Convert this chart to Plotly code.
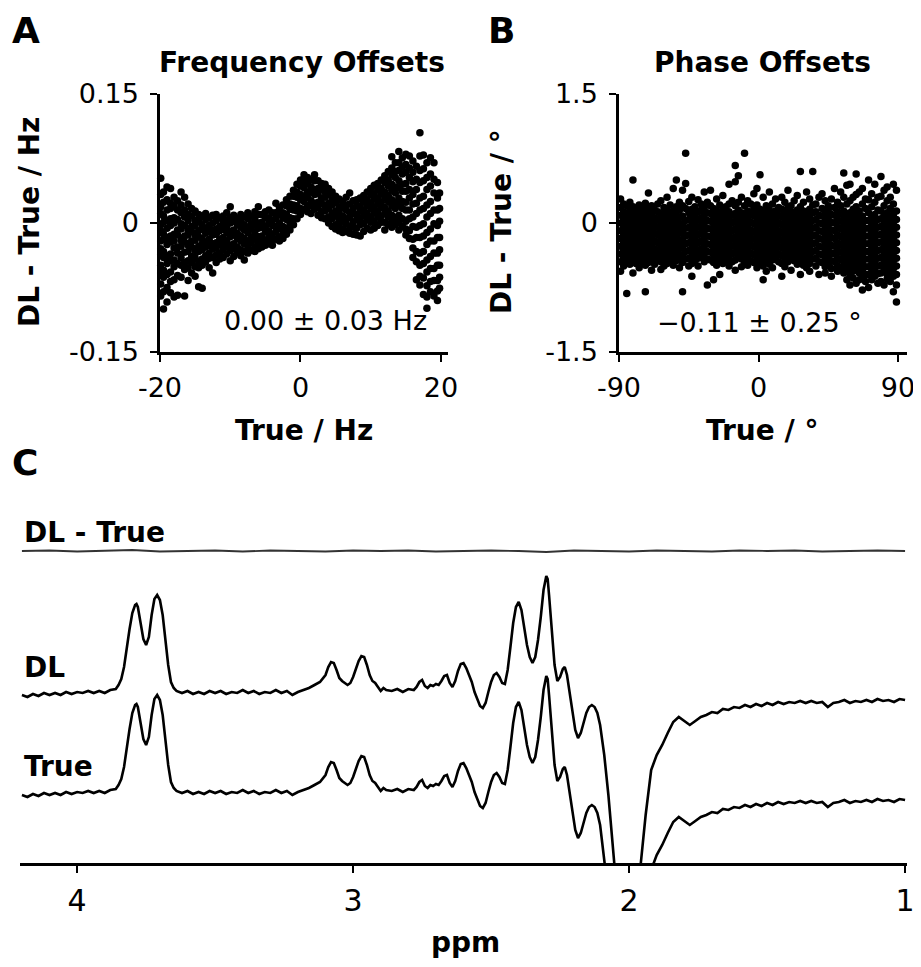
import plotly.graph_objects as go

# page window is 921x967; the html body adds an 8px margin, so the figure is 913x959
WIN_OFF = 8
W, H = 921 - WIN_OFF, 967 - WIN_OFF

# ---------------- Panel A: frequency offsets (x in Hz, y in mHz) ----------------
freq_col_x = [-19.9, -19.5, -19.0, -18.5, -18.0, -17.5, -17.0, -16.5, -16.0, -15.5,
              -15.0, -14.5, -14.0, -13.5, -13.0, -12.5, -12.0, -11.5, -11.0, -10.5,
              -10.0, -9.5, -9.0, -8.5, -8.0, -7.5, -7.0, -6.5, -6.0, -5.5,
              -5.0, -4.5, -4.0, -3.5, -3.0, -2.5, -2.0, -1.5, -1.0, -0.5,
              0.0, 0.5, 1.0, 1.5, 2.0, 2.5, 3.0, 3.5, 4.0, 4.5,
              5.0, 5.5, 6.0, 6.5, 7.0, 7.5, 8.0, 8.5, 9.0, 9.5,
              10.0, 10.5, 11.0, 11.5, 12.0, 12.5, 13.0, 13.5, 14.0, 14.5,
              15.0, 15.5, 16.0, 16.5, 17.0, 17.5, 18.0, 18.5, 19.0, 19.5, 19.8]
freq_diff_mhz = [
    [52, 33, 19, 11, -2, -9, -21, -30, -37, -49, -58, -71, -85],
    [36, 24, 8, 1, -13, -19, -33, -40, -55, -63, -80, -100],
    [42, 27, 15, 3, -6, -17, -25, -39, -47, -60, -75, -92],
    [40, 23, 17, 5, -3, -15, -22, -36, -44, -57, -68, -81],
    [30, 20, 6, 0, -13, -21, -29, -43, -51, -66, -86],
    [26, 15, 4, -8, -14, -28, -35, -47, -61, -84],
    [36, 21, 12, -1, -7, -20, -27, -40, -49, -63],
    [30, 15, 7, -3, -15, -22, -34, -46, -54, -85],
    [22, 10, 3, -9, -14, -26, -33, -44, -52, -67],
    [17, 8, -4, -10, -21, -28, -39, -46, -58],
    [14, 3, -3, -14, -20, -32, -40, -51, -62],
    [10, 2, -9, -16, -27, -33, -45, -52, -74],
    [8, -2, -7, -18, -24, -31, -42, -49, -76],
    [11, 4, -6, -12, -22, -28, -38, -45],
    [6, -3, -9, -19, -25, -35, -41, -52],
    [9, 0, -8, -14, -24, -30, -40, -58],
    [10, 3, -7, -13, -23, -29, -37, -46],
    [6, -4, -9, -19, -25, -35, -42],
    [8, 1, -7, -17, -23, -31, -40],
    [12, 3, -5, -11, -21, -27, -36],
    [19, 6, 0, -10, -16, -26, -32, -44],
    [9, 2, -8, -14, -24, -30, -39],
    [5, -2, -12, -18, -28, -34],
    [10, 1, -5, -15, -21, -31, -38],
    [7, -2, -8, -18, -24, -33, -43],
    [12, 5, -5, -11, -21, -27, -35],
    [8, -1, -7, -17, -23, -32],
    [13, 4, -2, -12, -18, -28, -33],
    [19, 10, 0, -6, -16, -22, -30],
    [10, 1, -5, -15, -21, -28],
    [13, 6, -4, -10, -20, -26],
    [15, 6, 0, -10, -16, -24],
    [12, 3, -3, -13, -19, -26],
    [23, 12, 6, -4, -10, -19],
    [18, 10, 0, -6, -16, -21],
    [21, 12, 6, -4, -10, -18],
    [27, 20, 10, 4, -6, -13],
    [31, 22, 16, 6, 0, -8],
    [38, 31, 21, 15, 5, -2],
    [45, 36, 30, 20, 14, 5],
    [50, 43, 33, 27, 17, 10],
    [56, 47, 41, 31, 25, 16],
    [53, 46, 36, 30, 20, 13],
    [50, 42, 36, 26, 20, 11],
    [56, 49, 39, 33, 23, 16],
    [49, 40, 34, 24, 18, 9],
    [46, 39, 29, 23, 13, 6],
    [45, 36, 30, 20, 14, 5],
    [40, 33, 23, 17, 7, 0],
    [36, 27, 21, 11, 5, -4],
    [31, 24, 14, 8, -2, -7],
    [28, 19, 13, 3, -3, -9],
    [25, 18, 8, 2, -7, -11],
    [30, 21, 15, 5, -1, -10],
    [35, 22, 12, 6, -4, -12],
    [26, 17, 11, 1, -5, -13],
    [27, 20, 10, 4, -6, -14],
    [29, 20, 14, 4, -2, -15],
    [32, 25, 15, 9, -1, -10],
    [36, 27, 21, 11, 5, -6],
    [40, 33, 23, 17, 7, 1, -8],
    [44, 34, 28, 18, 12, 2, -6],
    [46, 39, 29, 23, 13, 7, -3],
    [50, 40, 34, 24, 18, 8, 1],
    [55, 47, 36, 29, 18, 11, 1, -8],
    [60, 50, 43, 32, 25, 14, 7, -2],
    [77, 64, 56, 45, 38, 27, 20, 9, 2, -5],
    [70, 60, 53, 42, 35, 24, 17, 6, -2],
    [83, 70, 61, 49, 41, 29, 21, 9, 1, -8],
    [76, 65, 57, 45, 37, 25, 17, 5, -4],
    [80, 68, 59, 46, 37, 24, 15, 2, -7, -14],
    [78, 64, 53, 39, 29, 15, 5, -9, -18],
    [72, 59, 48, 33, 22, 7, -4, -19, -29, -40],
    [66, 51, 39, 23, 11, -5, -17, -33, -45, -66],
    [105, 78, 61, 47, 29, 15, -3, -17, -35, -49, -62, -72],
    [79, 63, 49, 31, 17, -1, -15, -33, -47, -64, -83],
    [70, 53, 39, 21, 7, -11, -25, -43, -57, -73, -86, -99],
    [76, 57, 43, 25, 11, -7, -21, -39, -53, -68, -80],
    [70, 51, 35, 15, -1, -21, -35, -53, -67, -85],
    [47, 29, 15, -3, -17, -35, -49, -67, -79, -90],
    [35, 17, 2, -17, -31, -49, -63, -76],
]

# ---------------- Panel B: phase offsets (x in deg, y in 0.01 deg) ----------------
phase_col_x = [-89, -87, -85, -83, -81, -79, -77, -75, -73, -71,
               -69, -67, -65, -63, -61, -59, -57, -55, -53, -51,
               -49, -47, -45, -43, -41, -39, -37, -35, -33, -31,
               -29, -27, -25, -23, -21, -19, -17, -15, -13, -11,
               -9, -7, -5, -3, -1, 1, 3, 5, 7, 9,
               11, 13, 15, 17, 19, 21, 23, 25, 27, 29,
               31, 33, 35, 37, 39, 41, 43, 45, 47, 49,
               51, 53, 55, 57, 59, 61, 63, 65, 67, 69,
               71, 73, 75, 77, 79, 81, 83, 85, 87, 89]
phase_diff_cdeg = [
    [28, 18, 9, 0, -9, -18, -27, -36, -45, -56],
    [22, 13, 4, -5, -14, -23, -32, -41, -50],
    [20, 10, 1, -8, -17, -26, -35, -44, -82],
    [24, 15, 6, -3, -12, -21, -30, -39, -48],
    [50, 19, 10, 1, -8, -17, -26, -35, -44, -58],
    [16, 7, -2, -11, -20, -29, -38, -47],
    [21, 12, 3, -6, -15, -24, -33, -42, -52],
    [18, 9, 0, -9, -18, -27, -36, -45],
    [23, 14, 5, -4, -13, -22, -31, -40, -49, -80],
    [35, 17, 8, -1, -10, -19, -28, -37, -46],
    [20, 11, 2, -7, -16, -25, -34, -43, -55],
    [15, 6, -3, -12, -21, -30, -39, -48],
    [22, 13, 4, -5, -14, -23, -32, -41],
    [26, 9, 0, -9, -18, -27, -36, -45, -54],
    [18, 12, 3, -6, -15, -24, -33, -42, -50],
    [30, 16, 7, -2, -11, -20, -29, -38, -47],
    [21, 11, 2, -7, -16, -25, -34, -43],
    [40, 14, 5, -4, -13, -22, -31, -40, -49],
    [50, 19, 10, 1, -8, -17, -26, -35, -44],
    [24, 15, 6, -3, -12, -21, -30, -39, -52],
    [38, 20, 8, -1, -10, -19, -28, -37, -46, -80],
    [81, 46, 17, 3, -6, -15, -24, -33, -42],
    [25, 12, 4, -5, -14, -23, -32, -41, -50],
    [30, 16, 7, -2, -11, -20, -29, -38, -47, -62],
    [19, 10, 1, -8, -17, -26, -35, -44],
    [27, 13, 4, -5, -14, -23, -32, -41, -50],
    [22, 15, 6, -3, -12, -21, -30, -39],
    [36, 18, 9, 0, -9, -18, -27, -36, -45],
    [24, 12, 3, -6, -15, -24, -33, -42, -72],
    [38, 20, 11, 2, -7, -16, -25, -34, -43],
    [17, 8, -1, -10, -19, -28, -37, -46, -66],
    [28, 14, 5, -4, -13, -22, -31, -40, -49],
    [21, 11, 2, -7, -16, -25, -34, -43, -60],
    [32, 16, 7, -2, -11, -20, -29, -38, -47],
    [19, 10, 1, -8, -17, -26, -35, -44],
    [45, 22, 13, 4, -5, -14, -23, -32, -41, -50],
    [26, 9, 0, -9, -18, -27, -36, -45],
    [67, 48, 20, 11, 2, -7, -16, -25, -34, -43, -55],
    [55, 24, 15, 6, -3, -12, -21, -30, -39],
    [30, 12, 3, -6, -15, -24, -33, -42, -51],
    [81, 20, 8, -1, -10, -19, -28, -37, -46],
    [26, 14, 5, -4, -13, -22, -31, -40, -49],
    [22, 10, 1, -8, -17, -26, -35, -44],
    [34, 17, 8, -1, -10, -19, -28, -37, -46],
    [40, 21, 12, 3, -6, -15, -24, -33, -42, -52],
    [56, 16, 7, -2, -11, -20, -29, -38, -47],
    [30, 13, 4, -5, -14, -23, -32, -41, -50, -66],
    [20, 10, 1, -8, -17, -26, -35, -44, -56],
    [36, 15, 6, -3, -12, -21, -30, -39, -48],
    [22, 11, 2, -7, -16, -25, -34, -43, -52],
    [28, 14, 5, -4, -13, -22, -31, -40],
    [18, 9, 0, -9, -18, -27, -36, -45],
    [30, 16, 7, -2, -11, -20, -29, -38, -47, -62],
    [24, 12, 3, -6, -15, -24, -33, -42, -51],
    [38, 18, 9, 0, -9, -18, -27, -36, -45],
    [20, 13, 4, -5, -14, -23, -32, -41, -55],
    [26, 10, 1, -8, -17, -26, -35, -44],
    [32, 15, 6, -3, -12, -21, -30, -39, -48],
    [60, 19, 10, 1, -8, -17, -26, -35, -44, -60],
    [24, 14, 5, -4, -13, -22, -31, -40, -49],
    [36, 11, 2, -7, -16, -25, -34, -43, -52],
    [28, 16, 7, -2, -11, -20, -29, -38, -47, -56],
    [60, 21, 12, 3, -6, -15, -24, -33, -42],
    [22, 13, 4, -5, -14, -23, -32, -41, -50],
    [30, 9, 0, -9, -18, -27, -36, -45, -60],
    [34, 17, 8, -1, -10, -19, -28, -37, -46],
    [26, 12, 3, -6, -15, -24, -33, -42, -51, -58],
    [20, 15, 6, -3, -12, -21, -30, -39, -48],
    [28, 10, 1, -8, -17, -26, -35, -44, -53, -62],
    [40, 18, 9, 0, -9, -18, -27, -36, -45],
    [24, 13, 4, -5, -14, -23, -32, -41, -50, -56],
    [36, 20, 11, 2, -7, -16, -25, -34, -43, -52],
    [58, 30, 14, 5, -4, -13, -22, -31, -40, -49, -58],
    [44, 22, 9, 0, -9, -18, -27, -36, -45, -54, -66],
    [45, 26, 12, 3, -6, -15, -24, -33, -42, -51, -60, -72],
    [30, 16, 7, -2, -11, -20, -29, -38, -47, -56, -64],
    [57, 33, 19, 10, 1, -8, -17, -26, -35, -44, -53, -70],
    [36, 14, 5, -4, -13, -22, -31, -40, -49, -58, -66],
    [40, 22, 8, -1, -10, -19, -28, -37, -46, -55, -64, -78],
    [28, 17, 3, -6, -15, -24, -33, -42, -51, -60, -68],
    [50, 27, 12, 3, -6, -15, -24, -33, -42, -51, -60, -75],
    [34, 19, 6, -3, -12, -21, -30, -39, -48, -57, -66],
    [45, 24, 10, 1, -8, -17, -26, -35, -44, -53, -62],
    [30, 15, 4, -5, -14, -23, -32, -41, -50, -59, -70],
    [54, 31, 14, 5, -4, -13, -22, -31, -40, -49, -58, -68],
    [38, 20, 8, -1, -10, -19, -28, -37, -46, -55, -72],
    [42, 26, 12, 3, -6, -15, -24, -33, -42, -51, -60, -65],
    [30, 17, 6, -3, -12, -21, -30, -39, -48, -57, -68],
    [45, 22, 10, 1, -8, -17, -26, -35, -44, -53, -62, -80],
    [38, 14, 4, -5, -14, -23, -32, -41, -50, -60, -72, -92],
]

# ---------------- Panel C: spectra (ppm, arbitrary intensity) ----------------
spec_ppm = [
    4.20, 4.18, 4.16, 4.14, 4.12, 4.10, 4.08, 4.06, 4.04, 4.02,
    4.00, 3.98, 3.96, 3.94, 3.92, 3.90, 3.88, 3.86, 3.85, 3.84,
    3.83, 3.82, 3.81, 3.80, 3.79, 3.785, 3.78, 3.77, 3.76, 3.75,
    3.74, 3.73, 3.72, 3.71, 3.70, 3.69, 3.68, 3.67, 3.66, 3.65,
    3.64, 3.62, 3.60, 3.58, 3.56, 3.54, 3.52, 3.50, 3.48, 3.46,
    3.44, 3.42, 3.40, 3.38, 3.36, 3.34, 3.32, 3.30, 3.28, 3.26,
    3.24, 3.22, 3.20, 3.18, 3.16, 3.14, 3.12, 3.10, 3.09, 3.08,
    3.07, 3.06, 3.05, 3.04, 3.03, 3.02, 3.01, 3.00, 2.99, 2.98,
    2.97, 2.96, 2.95, 2.94, 2.93, 2.92, 2.91, 2.90, 2.89, 2.88,
    2.86, 2.84, 2.82, 2.80, 2.78, 2.77, 2.76, 2.75, 2.74, 2.73,
    2.72, 2.71, 2.70, 2.69, 2.68, 2.67, 2.66, 2.65, 2.64, 2.63,
    2.62, 2.61, 2.60, 2.59, 2.58, 2.57, 2.56, 2.55, 2.54, 2.53,
    2.52, 2.51, 2.50, 2.49, 2.48, 2.47, 2.46, 2.45, 2.44, 2.43,
    2.42, 2.41, 2.40, 2.39, 2.38, 2.37, 2.36, 2.35, 2.34, 2.33,
    2.32, 2.31, 2.30, 2.295, 2.29, 2.28, 2.27, 2.26, 2.25, 2.24,
    2.233, 2.225, 2.215, 2.205, 2.195, 2.185, 2.175, 2.165, 2.155, 2.145,
    2.135, 2.125, 2.115, 2.105, 2.09, 2.075, 2.06, 2.05, 2.03, 2.00,
    1.98, 1.96, 1.94, 1.92, 1.90, 1.88, 1.86, 1.84, 1.82, 1.80,
    1.78, 1.76, 1.74, 1.72, 1.70, 1.68, 1.66, 1.64, 1.62, 1.60,
    1.58, 1.56, 1.54, 1.52, 1.50, 1.48, 1.46, 1.44, 1.42, 1.40,
    1.38, 1.36, 1.34, 1.32, 1.30, 1.28, 1.26, 1.24, 1.22, 1.20,
    1.18, 1.16, 1.14, 1.12, 1.10, 1.08, 1.06, 1.04, 1.02, 1.00,
]
spec_true = [
    0.00, -0.02, 0.01, -0.01, 0.02, 0.00, 0.02, 0.00, 0.03, 0.01,
    0.03, 0.02, 0.04, 0.02, 0.04, 0.02, 0.05, 0.06, 0.10, 0.16,
    0.28, 0.48, 0.66, 0.82, 0.90, 0.91, 0.88, 0.72, 0.56, 0.50,
    0.58, 0.80, 0.96, 1.00, 0.95, 0.80, 0.55, 0.30, 0.13, 0.07,
    0.04, 0.02, 0.04, 0.01, 0.03, 0.01, 0.04, 0.02, 0.04, 0.01,
    0.03, 0.02, 0.05, 0.02, 0.04, 0.01, 0.03, 0.02, 0.05, 0.02,
    0.04, 0.00, 0.03, 0.05, 0.07, 0.10, 0.13, 0.20, 0.28, 0.33,
    0.32, 0.25, 0.17, 0.14, 0.12, 0.10, 0.12, 0.18, 0.26, 0.34,
    0.39, 0.38, 0.30, 0.20, 0.14, 0.12, 0.08, 0.04, 0.07, 0.05,
    0.04, 0.06, 0.03, 0.06, 0.05, 0.08, 0.13, 0.15, 0.09, 0.07,
    0.10, 0.09, 0.11, 0.10, 0.14, 0.19, 0.20, 0.12, 0.08, 0.14,
    0.24, 0.31, 0.32, 0.27, 0.20, 0.13, 0.03, -0.05, -0.11, -0.13,
    -0.08, 0.03, 0.13, 0.20, 0.22, 0.18, 0.12, 0.11, 0.25, 0.48,
    0.72, 0.88, 0.93, 0.85, 0.66, 0.50, 0.38, 0.32, 0.38, 0.55,
    0.78, 1.05, 1.19, 1.16, 1.00, 0.62, 0.30, 0.14, 0.18, 0.26,
    0.28, 0.20, 0.00, -0.20, -0.35, -0.43, -0.38, -0.28, -0.18, -0.12,
    -0.10, -0.12, -0.18, -0.30, -0.60, -1.00, -1.45, -1.80, -2.80, -3.50,
    -2.80, -1.75, -1.20, -0.75, -0.60, -0.50, -0.38, -0.27, -0.22, -0.26,
    -0.30, -0.26, -0.22, -0.20, -0.17, -0.18, -0.14, -0.15, -0.12, -0.13,
    -0.10, -0.12, -0.09, -0.11, -0.08, -0.10, -0.07, -0.09, -0.07, -0.08,
    -0.06, -0.08, -0.06, -0.08, -0.07, -0.12, -0.08, -0.07, -0.05, -0.08,
    -0.06, -0.07, -0.05, -0.07, -0.04, -0.06, -0.05, -0.07, -0.04, -0.05,
]
# DL trace reads identical to the True trace at this scale
spec_dl = list(spec_true)
diff_ppm = [4.2, 4.1, 4.0, 3.9, 3.8, 3.7, 3.6, 3.5, 3.4, 3.3, 3.2,
            3.1, 3.0, 2.9, 2.8, 2.7, 2.6, 2.5, 2.4, 2.3, 2.2,
            2.1, 2.0, 1.9, 1.8, 1.7, 1.6, 1.5, 1.4, 1.3, 1.2, 1.1, 1.0]
diff_vals = [0.0, 0.005, -0.005, 0.0, 0.01, -0.005, 0.0, 0.005, -0.005, 0.005, 0.0,
             -0.005, 0.005, 0.0, 0.005, -0.005, 0.0, 0.005, 0.0, -0.01, 0.005,
             0.0, -0.005, 0.005, 0.0, -0.005, 0.005, 0.0, 0.005, -0.005, 0.0, 0.005, 0.0]

freq_ticks = [-20, 0, 20]
freq_ticktext = ["-20", "0", "20"]
freq_y_ticks = [-0.15, 0, 0.15]
freq_y_ticktext = ["-0.15", "0", "0.15"]
phase_ticks = [-90, 0, 90]
phase_ticktext = ["-90", "0", "90"]
phase_y_ticks = [-1.5, 0, 1.5]
phase_y_ticktext = ["-1.5", "0", "1.5"]
ppm_ticks = [4, 3, 2, 1]

assert len(spec_ppm) == len(spec_true)
assert len(diff_ppm) == len(diff_vals)
assert len(freq_col_x) == len(freq_diff_mhz)
assert len(phase_col_x) == len(phase_diff_cdeg)

# ---------------- build ----------------
fx, fy = [], []
for x, col in zip(freq_col_x, freq_diff_mhz):
    for v in col:
        fx.append(x)
        fy.append(v / 1000.0)
phx, phy = [], []
for x, col in zip(phase_col_x, phase_diff_cdeg):
    for v in col:
        phx.append(x)
        phy.append(v / 100.0)

OFF_DL = 1.0
OFF_DIFF = 2.44

def px(x):
    # screen pixel -> paper fraction
    return (x - WIN_OFF) / W

def py(y):
    return 1 - (y - WIN_OFF) / H

TICK_FONT = dict(family="DejaVu Sans", size=27, color="black")
BOLD = dict(family="DejaVu Sans", size=28, color="black", weight="bold")

fig = go.Figure()
fig.add_trace(go.Scatter(x=fx, y=fy, mode="markers", xaxis="x", yaxis="y",
                         marker=dict(size=7.5, color="black", line=dict(width=0)),
                         showlegend=False, cliponaxis=False))
fig.add_trace(go.Scatter(x=phx, y=phy, mode="markers", xaxis="x2", yaxis="y2",
                         marker=dict(size=7.5, color="black", line=dict(width=0)),
                         showlegend=False, cliponaxis=False))
fig.add_trace(go.Scatter(x=diff_ppm, y=[v + OFF_DIFF for v in diff_vals], mode="lines",
                         xaxis="x3", yaxis="y3", line=dict(color="#333333", width=1.8),
                         showlegend=False))
fig.add_trace(go.Scatter(x=spec_ppm, y=[v + OFF_DL for v in spec_dl], mode="lines",
                         xaxis="x3", yaxis="y3", line=dict(color="black", width=2.6),
                         showlegend=False))
fig.add_trace(go.Scatter(x=spec_ppm, y=spec_true, mode="lines",
                         xaxis="x3", yaxis="y3", line=dict(color="black", width=2.6),
                         showlegend=False))

axis_common = dict(showline=True, linecolor="black", linewidth=2.5, ticks="outside",
                   ticklen=7, tickwidth=2, tickcolor="black", showgrid=False,
                   zeroline=False, tickfont=TICK_FONT, automargin=False)

fig.update_layout(
    template="none",
    width=W, height=H, margin=dict(l=0, r=0, t=0, b=0, pad=0), autosize=False,
    paper_bgcolor="white", plot_bgcolor="white", showlegend=False,
    xaxis=dict(domain=[px(160), px(448)], range=[-20, 21.0], anchor="y",
               tickvals=freq_ticks, ticktext=freq_ticktext, ticklabelstandoff=3,
               **axis_common),
    yaxis=dict(domain=[py(352), py(94)], range=[-0.15, 0.15], anchor="x",
               tickvals=freq_y_ticks, ticktext=freq_y_ticktext, ticklabelstandoff=6,
               **axis_common),
    xaxis2=dict(domain=[px(619), px(907)], range=[-90, 95.8], anchor="y2",
                tickvals=phase_ticks, ticktext=phase_ticktext, ticklabelstandoff=3,
                **axis_common),
    yaxis2=dict(domain=[py(352), py(94)], range=[-1.5, 1.5], anchor="x2",
                tickvals=phase_y_ticks, ticktext=phase_y_ticktext, ticklabelstandoff=6,
                **axis_common),
    xaxis3=dict(domain=[px(20), px(907)], range=[4.207, 0.993], anchor="y3",
                tickvals=ppm_ticks, ticklabelstandoff=2,
                **{**axis_common, "tickfont": dict(family="DejaVu Sans", size=30, color="black")}),
    yaxis3=dict(domain=[py(863), py(480)], range=[-0.68, 3.15], anchor="x3",
                visible=False, showgrid=False, zeroline=False, automargin=False),
)

def ann(text, x, y, font, xanchor="center", yanchor="middle", angle=0):
    fig.add_annotation(text=text, x=px(x), y=py(y), xref="paper", yref="paper",
                       showarrow=False, font=font, xanchor=xanchor, yanchor=yanchor,
                       textangle=angle)

LETTER = dict(family="DejaVu Sans", size=36, color="black", weight="bold")
ann("A", 10, 31, LETTER, xanchor="left")
ann("B", 486, 31, LETTER, xanchor="left")
ann("C", 10, 462, LETTER, xanchor="left")
ann("Frequency Offsets", 302, 62, BOLD)
ann("Phase Offsets", 762, 62, BOLD)
ann("True / Hz", 304, 430, BOLD)
ann("True / °", 762, 430, BOLD)
ann("DL - True / Hz", 30, 222, BOLD, angle=-90)
ann("DL - True / °", 502, 222, BOLD, angle=-90)
ann("0.00 ± 0.03 Hz", 325, 321, TICK_FONT)
ann("\u22120.11 ± 0.25 °", 759, 322, TICK_FONT)
ann("DL - True", 22, 532, BOLD, xanchor="left")
ann("DL", 22, 667, BOLD, xanchor="left")
ann("True", 22, 766, BOLD, xanchor="left")
ann("ppm", 465, 942, BOLD)

fig.write_html("out.html")
